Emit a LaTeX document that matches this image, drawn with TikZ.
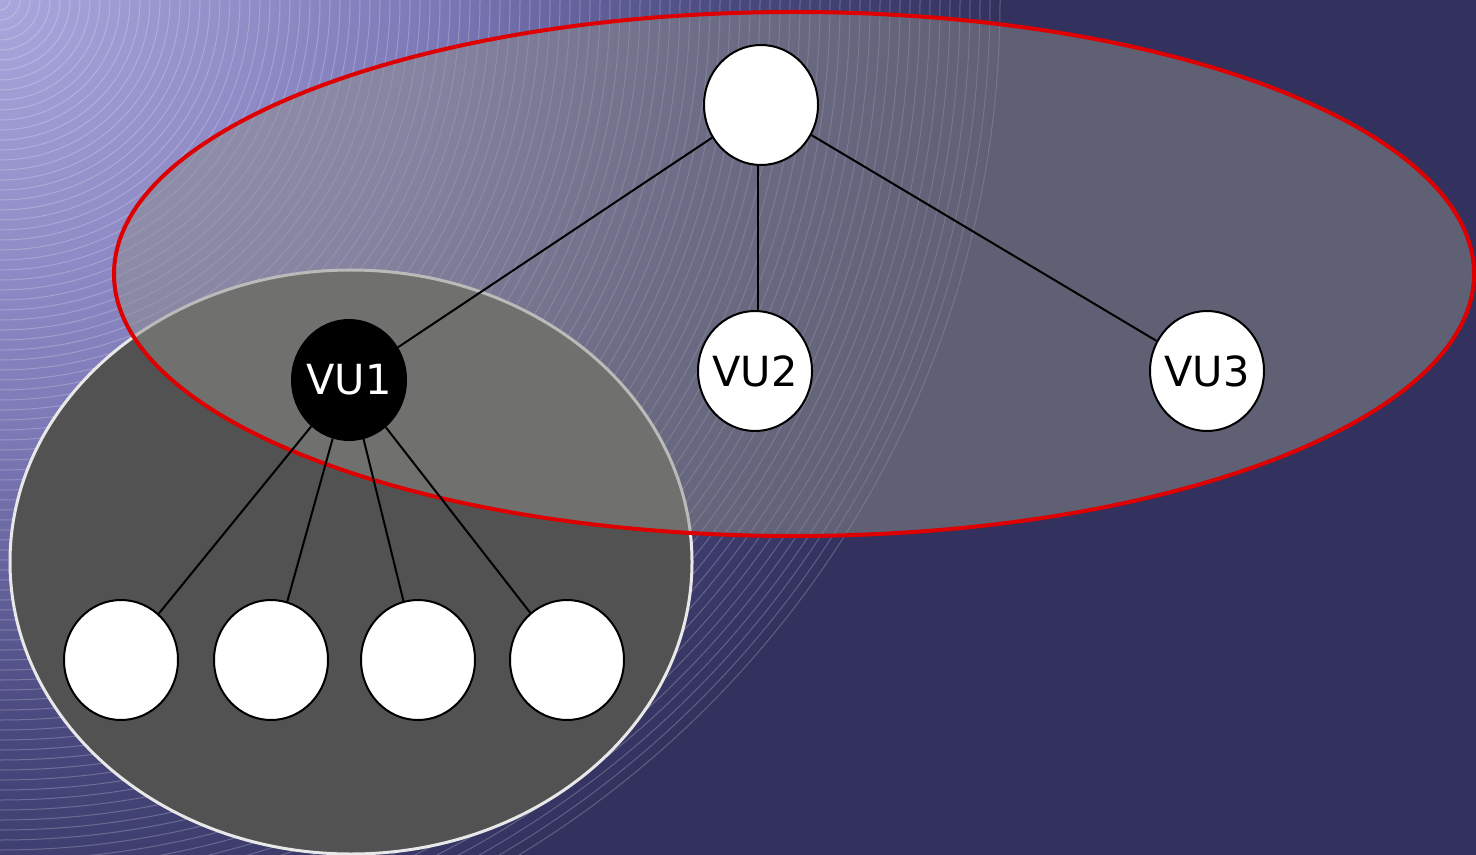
\documentclass[tikz,border=0pt]{standalone}
\usepackage{fontspec}
\setmainfont{DejaVu Sans}
\usetikzlibrary{shapes.geometric}

\definecolor{navy}{RGB}{51,50,95}
\definecolor{glowA}{RGB}{170,167,221}
\definecolor{glowB}{RGB}{124,120,182}
\definecolor{glowC}{RGB}{75,74,128}
\definecolor{clusterfill}{RGB}{82,82,82}
\definecolor{clusteredge}{RGB}{232,232,232}
\definecolor{groupfill}{RGB}{142,142,140}
\definecolor{groupedge}{RGB}{222,0,0}

% backdrop glow: 25bp is the rim of the shaded circle
\pgfdeclareradialshading{glow}{\pgfpoint{0bp}{0bp}}{%
  color(0bp)=(glowA); color(11bp)=(glowB); color(18bp)=(glowC);
  color(25bp)=(navy); color(50bp)=(navy)}

\tikzset{
  vnode/.style={ellipse, draw=black, line width=1pt, fill=white,
    minimum width=57pt, minimum height=60pt, inner sep=0pt},
  vlabel/.style={font=\fontsize{20.75}{24}\selectfont, text=#1, inner sep=0pt},
  vdark/.style={vnode, fill=black},
  link/.style={draw=black, line width=1pt},
  hatch/.style={draw=white, draw opacity=0.22, line width=0.5pt},
}

\begin{document}
\begin{tikzpicture}[x=0.5pt, y=-0.5pt]
  \useasboundingbox (0,0) rectangle (1476,855);
  \begin{scope}
    \clip (0,0) rectangle (1476,855);
    % backdrop
    \fill[navy] (0,0) rectangle (1476,855);
    \shade[shading=glow] (0,0) circle (1000);
    \foreach \r in {10,20,...,1000}
      \draw[hatch] (0,0) circle (\r);

    % lower cluster
    \draw[fill=clusterfill, draw=clusteredge, line width=1.5pt]
      (351,562) ellipse [x radius=341, y radius=292];

    % upper group
    \draw[fill=groupfill, fill opacity=0.5, draw=groupedge, line width=2pt]
      (794,274) ellipse [x radius=680, y radius=262];
  \end{scope}

  % tree nodes
  \node[vnode] (root) at (761,105) {};
  \node[vdark, label={[vlabel=white]center:VU1}] (vu1) at (349,380) {};
  \node[vnode, label={[vlabel=black]center:VU2}] (vu2) at (755,371) {};
  \node[vnode, label={[vlabel=black]center:VU3}] (vu3) at (1207,371) {};
  \node[vnode] (l1) at (121,660) {};
  \node[vnode] (l2) at (271,660) {};
  \node[vnode] (l3) at (418,660) {};
  \node[vnode] (l4) at (567,660) {};

  % connectors
  \draw[link] (root) -- (vu1);
  \draw[link] (root.south) ++(-3,0) coordinate (rs) (rs) -- (vu2.north -| rs);
  \draw[link] (root) -- (vu3);
  \draw[link] (vu1) -- (l1);
  \draw[link] (vu1) -- (l2);
  \draw[link] (vu1) -- (l3);
  \draw[link] (vu1) -- (l4);
\end{tikzpicture}
\end{document}
